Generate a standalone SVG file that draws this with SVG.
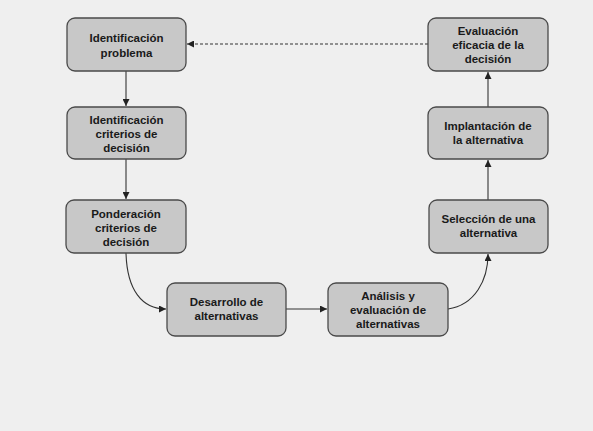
<svg xmlns="http://www.w3.org/2000/svg" width="593" height="431" viewBox="0 0 593 431">
<defs>
<style>
.box{fill:#c8c8c8;stroke:#4a4a4a;stroke-width:1.3}
.t{font-family:"Liberation Sans",Arial,sans-serif;font-size:11.5px;font-weight:bold;fill:#1a1a1a;text-anchor:middle}
.c{fill:none;stroke:#333;stroke-width:1.1}
</style>
<marker id="ah" viewBox="0 0 10 10" refX="10" refY="5" markerWidth="7" markerHeight="7" orient="auto" markerUnits="userSpaceOnUse">
<path d="M0,0 L10,5 L0,10 z" fill="#222"/>
</marker>
</defs>
<rect width="593" height="431" fill="#efefef"/>
<g id="connectors">
<path class="c" d="M126,71 V106" marker-end="url(#ah)"/>
<path class="c" d="M126,159 V199" marker-end="url(#ah)"/>
<path class="c" d="M126,253 C127,290 142,309 166,309" marker-end="url(#ah)"/>
<path class="c" d="M286,309 H327" marker-end="url(#ah)"/>
<path class="c" d="M448,309 C475,305 488,280 488,254" marker-end="url(#ah)"/>
<path class="c" d="M488,200 V160" marker-end="url(#ah)"/>
<path class="c" d="M488,107 V72" marker-end="url(#ah)"/>
<path class="c" d="M428,44 H187" stroke-dasharray="3,2" marker-end="url(#ah)"/>
</g>
<g id="n1"><rect class="box" x="67" y="18" width="119" height="53" rx="8"/>
<text class="t" x="126.5" y="42">Identificación</text><text class="t" x="126.5" y="57">problema</text></g>
<g id="n2"><rect class="box" x="67" y="107" width="119" height="52" rx="8"/>
<text class="t" x="126.5" y="124">Identificación</text><text class="t" x="126.5" y="138">criterios de</text><text class="t" x="126.5" y="152">decisión</text></g>
<g id="n3"><rect class="box" x="66" y="200" width="120" height="53" rx="8"/>
<text class="t" x="126" y="218">Ponderación</text><text class="t" x="126" y="232">criterios de</text><text class="t" x="126" y="246">decisión</text></g>
<g id="n4"><rect class="box" x="167" y="283" width="119" height="53" rx="8"/>
<text class="t" x="226.5" y="306">Desarrollo de</text><text class="t" x="226.5" y="320">alternativas</text></g>
<g id="n5"><rect class="box" x="328" y="283" width="120" height="53" rx="8"/>
<text class="t" x="388" y="300">Análisis y</text><text class="t" x="388" y="314">evaluación de</text><text class="t" x="388" y="328">alternativas</text></g>
<g id="n6"><rect class="box" x="429" y="200" width="119" height="53" rx="8"/>
<text class="t" x="488.5" y="223">Selección de una</text><text class="t" x="488.5" y="237">alternativa</text></g>
<g id="n7"><rect class="box" x="428" y="107" width="120" height="52" rx="8"/>
<text class="t" x="488" y="130">Implantación de</text><text class="t" x="488" y="144">la alternativa</text></g>
<g id="n8"><rect class="box" x="428" y="18" width="120" height="53" rx="8"/>
<text class="t" x="488" y="35">Evaluación</text><text class="t" x="488" y="49">eficacia de la</text><text class="t" x="488" y="63">decisión</text></g>
</svg>
